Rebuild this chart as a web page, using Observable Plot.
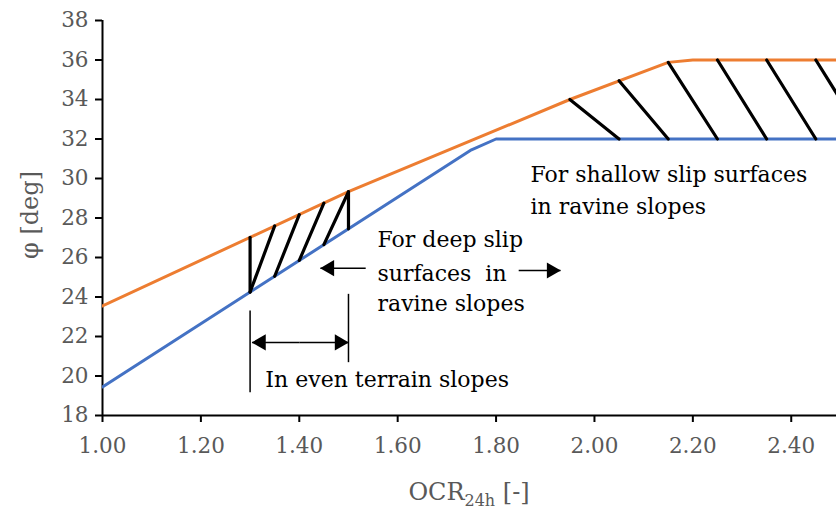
<!DOCTYPE html>
<html><head><meta charset="utf-8">
<script src="https://cdn.jsdelivr.net/npm/d3@7"></script>
<script src="https://cdn.jsdelivr.net/npm/@observablehq/plot@0.6"></script>
<style>
body{margin:0;background:#fff}
#chart svg g[aria-label$="tick label"] text { font-size: 21.5px; }
</style>
</head><body><div id="chart"></div>
<script>
// Upper bound (orange) and lower bound (blue) of φ vs OCR24h
const orangeX = [1.0, 1.5, 1.95, 2.15, 2.2, 2.5];
const orangeY = [23.55, 29.33, 34.0, 35.88, 36.0, 36.0];
const blueX = [1.0, 1.75, 1.8, 2.5];
const blueY = [19.45, 31.45, 32.0, 32.0];
// Hatch segments between the two bounds
const hatchX1 = [1.3, 1.3, 1.35, 1.4, 1.45, 1.5, 1.95, 2.05, 2.15, 2.25, 2.35, 2.45];
const hatchY1 = [24.25, 24.25, 25.05, 25.85, 26.65, 27.45, 34.0, 34.95, 35.88, 36.0, 36.0, 36.0];
const hatchX2 = [1.3, 1.35, 1.4, 1.45, 1.5, 1.5, 2.05, 2.15, 2.25, 2.35, 2.45, 2.55];
const hatchY2 = [27.02, 27.6, 28.17, 28.75, 29.33, 29.33, 32, 32, 32, 32, 32, 32];
// Arrows (x2 is the tip)
const arrowX1 = [1.535, 1.846, 1.4, 1.4];
const arrowX2 = [1.443, 1.931, 1.304, 1.5];
const arrowY = [25.46, 25.34, 21.7, 21.7];
// Vertical marker lines
const vlineX = [1.3, 1.5];
const vlineY1 = [19.18, 20.7];
const vlineY2 = [23.32, 24.16];
// Annotation lines
const noteText = ["For shallow slip surfaces", "in ravine slopes", "For deep slip", "surfaces\u00a0\u00a0in", "ravine slopes", "In even terrain slopes"];
const noteX = [1.870, 1.870, 1.559, 1.559, 1.559, 1.331];
const noteY = [30.20, 28.58, 26.88, 25.19, 23.64, 19.82];
// Ticks
const xTicks = [1.0, 1.2, 1.4, 1.6, 1.8, 2.0, 2.2, 2.4];
const yTicks = [18, 20, 22, 24, 26, 28, 30, 32, 34, 36, 38];

const orange = orangeX.map((x, i) => ({x, y: orangeY[i]}));
const blue = blueX.map((x, i) => ({x, y: blueY[i]}));
const hatches = hatchX1.map((x1, i) => ({x1, y1: hatchY1[i], x2: hatchX2[i], y2: hatchY2[i]}));
const arrows = arrowX1.map((x1, i) => ({x1, x2: arrowX2[i], y: arrowY[i]}));
const vlines = vlineX.map((x, i) => ({x, y1: vlineY1[i], y2: vlineY2[i]}));
const notes = noteText.map((t, i) => ({t, x: noteX[i], y: noteY[i]}));

const svg = Plot.plot({
  width: 836,
  height: 512,
  marginLeft: 102,
  marginRight: 0,
  marginTop: 20,
  marginBottom: 97,
  style: {fontFamily: "'DejaVu Serif'", fontSize: "20px", background: "white"},
  x: {domain: [1, 2.492]},
  y: {domain: [18, 38]},
  marks: [
    Plot.axisX({ticks: xTicks, tickFormat: d => d.toFixed(2), tickSize: 7, tickPadding: 15,
      stroke: "black", strokeWidth: 2, fill: "#595959", label: null}),
    Plot.axisY({ticks: yTicks, tickSize: 7, tickPadding: 7,
      stroke: "black", strokeWidth: 2, fill: "#595959", label: null}),
    Plot.ruleX([1], {stroke: "black", strokeWidth: 2}),
    Plot.ruleY([18], {stroke: "black", strokeWidth: 2}),
    Plot.line(blue, {x: "x", y: "y", stroke: "#4472C4", strokeWidth: 3, clip: true}),
    Plot.line(orange, {x: "x", y: "y", stroke: "#ED7D31", strokeWidth: 3, clip: true}),
    Plot.link(hatches, {x1: "x1", y1: "y1", x2: "x2", y2: "y2", stroke: "black", strokeWidth: 3.2, strokeLinecap: "round", clip: true}),
    Plot.link(vlines, {x1: "x", x2: "x", y1: "y1", y2: "y2", stroke: "black", strokeWidth: 1.5}),
    Plot.link(arrows, {x1: "x1", x2: "x2", y1: "y", y2: "y", stroke: "black", strokeWidth: 1.5}),
    Plot.dot(arrows.filter(d => d.x2 < d.x1), {x: "x2", y: "y", symbol: "triangle", r: 6, rotate: -90, dx: 9, fill: "black", stroke: "none"}),
    Plot.dot(arrows.filter(d => d.x2 > d.x1), {x: "x2", y: "y", symbol: "triangle", r: 6, rotate: 90, dx: -9, fill: "black", stroke: "none"}),
    Plot.text(notes, {x: "x", y: "y", text: "t", textAnchor: "start", lineAnchor: "middle", fontSize: 22, fill: "black"})
  ]
});

const s = d3.select(svg);
s.append("text")
  .attr("transform", "translate(38,215) rotate(-90)")
  .attr("text-anchor", "middle")
  .attr("fill", "#595959")
  .attr("font-size", 24)
  .text("φ [deg]");
const xl = s.append("text")
  .attr("x", 469).attr("y", 500)
  .attr("text-anchor", "middle")
  .attr("fill", "#595959")
  .attr("font-size", 24);
xl.append("tspan").text("OCR");
xl.append("tspan").attr("dy", 6).attr("font-size", 16).text("24h");
xl.append("tspan").attr("dy", -6).text(" [-]");

document.getElementById("chart").append(svg);
</script>
</body></html>
